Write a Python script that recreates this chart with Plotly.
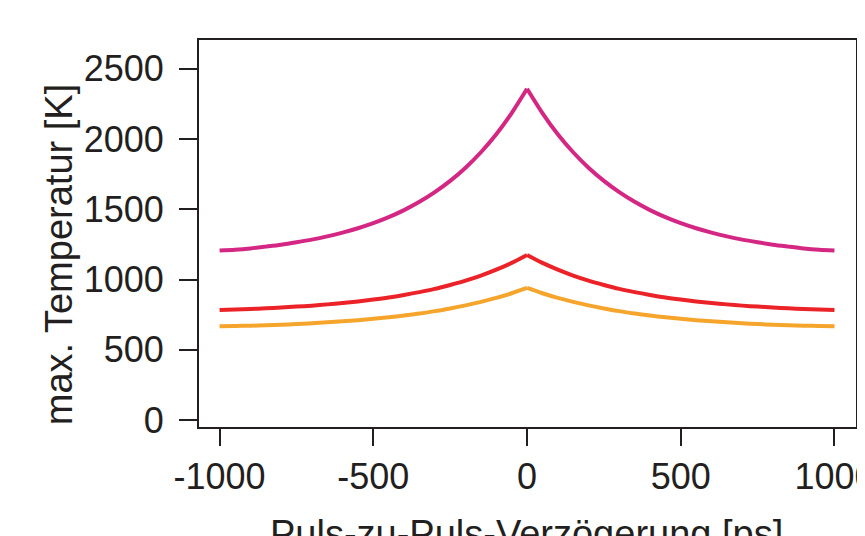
import plotly.graph_objects as go

# Pulse-to-pulse delay [ps]
delay_ps = [-1000, -950, -900, -850, -800, -750, -700, -650, -600, -550, -500,
            -450, -400, -350, -300, -250, -200, -150, -100, -50, 0,
            50, 100, 150, 200, 250, 300, 350, 400, 450, 500,
            550, 600, 650, 700, 750, 800, 850, 900, 950, 1000]

# max. temperature [K]
temp_pink = [1207, 1212, 1221, 1234, 1248, 1265, 1284, 1307, 1334, 1365, 1401,
             1444, 1494, 1553, 1622, 1702, 1796, 1906, 2034, 2185, 2358,
             2185, 2034, 1906, 1796, 1702, 1622, 1553, 1494, 1444, 1401,
             1365, 1334, 1307, 1284, 1265, 1248, 1234, 1221, 1212, 1207]
temp_red = [783, 786, 790, 795, 801, 807, 814, 823, 833, 844, 857,
            872, 890, 910, 933, 961, 992, 1028, 1070, 1118, 1174,
            1118, 1070, 1028, 992, 961, 933, 910, 890, 872, 857,
            844, 833, 823, 814, 807, 801, 795, 790, 786, 783]
temp_orange = [667, 669, 671, 674, 678, 683, 688, 695, 702, 710, 720,
               731, 744, 758, 775, 794, 816, 841, 869, 902, 940,
               902, 869, 841, 816, 794, 775, 758, 744, 731, 720,
               710, 702, 695, 688, 683, 678, 674, 671, 669, 667]

x_ticks = [-1000, -500, 0, 500, 1000]
y_ticks = [0, 500, 1000, 1500, 2000, 2500]

peak = delay_ps.index(0)

fig = go.Figure()
for ys, col in [(temp_orange, "#F6A52C"), (temp_red, "#EC2229"), (temp_pink, "#D42783")]:
    # draw each side of the cusp separately so the peak stays sharp
    for sl in (slice(0, peak + 1), slice(peak, None)):
        fig.add_trace(go.Scatter(x=delay_ps[sl], y=ys[sl], mode="lines",
                                 line=dict(color=col, width=4, shape="spline", smoothing=0.8),
                                 showlegend=False))

tick_font = dict(family="Liberation Sans, Arial, sans-serif", size=36, color="#231F20")
title_font = dict(family="Liberation Sans, Arial, sans-serif", size=38, color="#231F20")
# page body has an 8px default margin; figure sized to fill the rest of the window
fig.update_layout(
    width=857, height=528,
    margin=dict(l=191, r=9, t=32, b=109),
    paper_bgcolor="white", plot_bgcolor="white",
    font=tick_font,
    annotations=[
        dict(text="max. Temperatur [K]", textangle=-90, font=title_font,
             xref="paper", yref="paper", x=-0.213, y=0.444,
             xanchor="center", yanchor="middle", showarrow=False),
        dict(text="Puls-zu-Puls-Verzögerung [ps]", font=title_font,
             xref="paper", yref="paper", x=0.498, y=-0.276,
             xanchor="center", yanchor="middle", showarrow=False),
    ],
)
fig.update_xaxes(
    range=[-1067, 1070], tickvals=x_ticks, ticktext=[str(v) for v in x_ticks],
    showgrid=False, zeroline=False, showline=True, linecolor="#231F20", linewidth=2,
    mirror=True, ticks="outside", ticklen=17, tickwidth=2, tickcolor="#231F20",
    tickfont=tick_font, automargin=False, ticklabeloverflow="allow",
)
fig.update_yaxes(
    range=[-50, 2705], tickvals=y_ticks, ticktext=[str(v) for v in y_ticks],
    showgrid=False, zeroline=False, showline=True, linecolor="#231F20", linewidth=2,
    mirror=True, ticks="outside", ticklen=18, tickwidth=2, tickcolor="#231F20",
    tickfont=tick_font, ticklabelstandoff=8, automargin=False, ticklabeloverflow="allow",
)

fig.write_html("out.html")
